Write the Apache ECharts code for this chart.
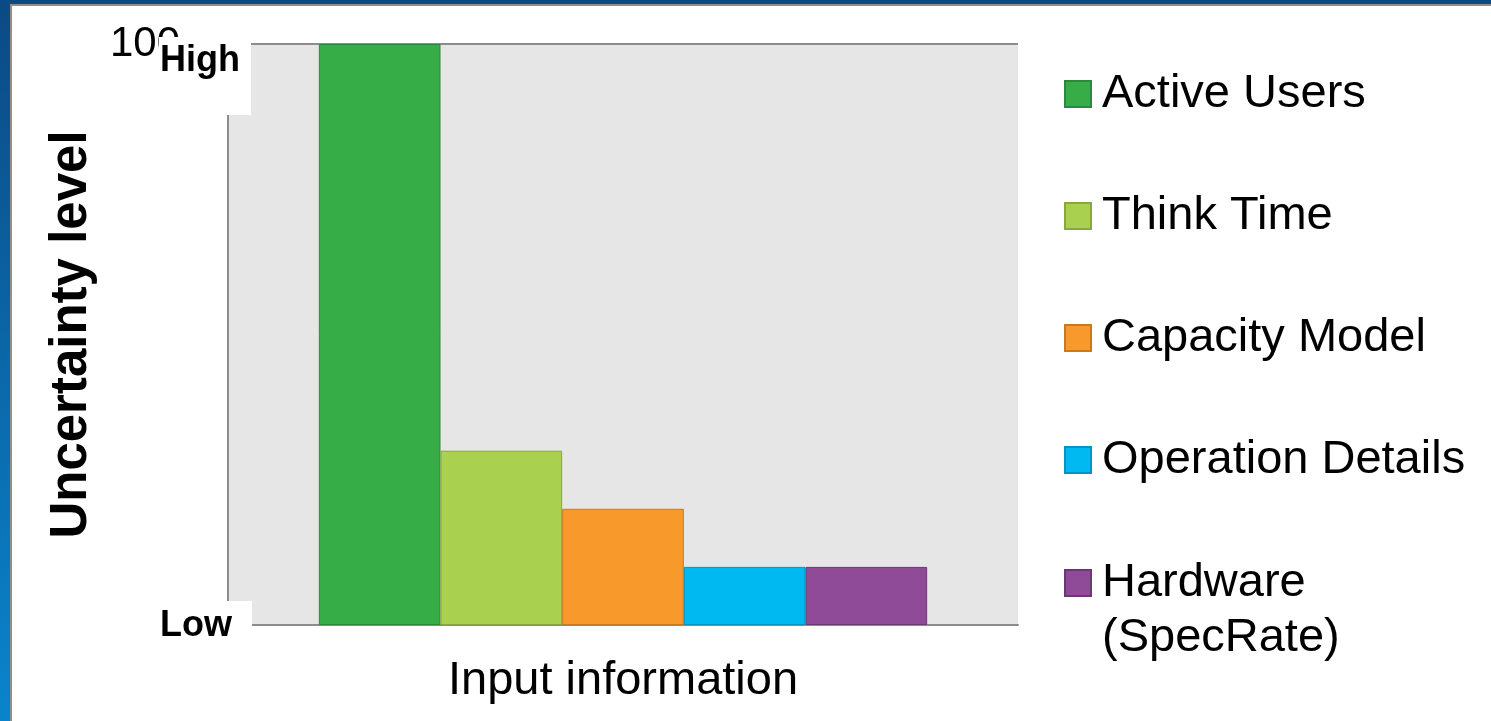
<!DOCTYPE html>
<html>
<head>
<meta charset="utf-8">
<script src="https://cdn.jsdelivr.net/npm/echarts@6/dist/echarts.min.js"></script>
<style>
  html, body { margin: 0; padding: 0; background: #ffffff; }
  #chart { width: 1491px; height: 721px; }
</style>
</head>
<body>
<div id="chart"></div>
<script>
// Input factors and their relative uncertainty (0 = low, 100 = high)
const categories = ['Input information'];
const seriesNames = ['Active Users', 'Think Time', 'Capacity Model', 'Operation Details', 'Hardware (SpecRate)'];
const seriesValues = [100, 30, 20, 10, 10];
const seriesColors = ['#37ad48', '#a9d04e', '#f7992b', '#00b9f0', '#8f4a98'];
const seriesBorders = ['#2b8a39', '#88a83c', '#c77a20', '#0094c2', '#6c3775'];
const yTickValues = [0, 100];
const levelHigh = 'High';
const levelLow = 'Low';

const FONT = "'Liberation Sans', Arial, sans-serif";
const AXIS_GRAY = '#8c8c8c';
const LEGEND_SIZE = 47;
const LEGEND_LINE = 55;

const chart = echarts.init(document.getElementById('chart'), null, { renderer: 'canvas' });

const option = {
  animation: false,
  grid: {
    left: 228, right: 473, top: 44, bottom: 96,
    show: true, backgroundColor: '#e6e6e6', borderWidth: 0
  },
  xAxis: {
    type: 'category',
    data: categories,
    name: categories[0],
    nameLocation: 'middle',
    nameGap: 33,
    nameTextStyle: { fontFamily: FONT, fontSize: 47, color: '#000000' },
    axisLine: { show: true, lineStyle: { color: AXIS_GRAY, width: 2 } },
    axisTick: { show: false },
    axisLabel: { show: false },
    splitLine: { show: false }
  },
  yAxis: {
    type: 'value',
    min: yTickValues[0],
    max: yTickValues[yTickValues.length - 1],
    interval: yTickValues[1] - yTickValues[0],
    name: 'Uncertainty level',
    nameLocation: 'middle',
    nameGap: 131,
    nameTextStyle: { fontFamily: FONT, fontSize: 51, fontWeight: 'bold', color: '#000000' },
    axisLine: { show: true, lineStyle: { color: AXIS_GRAY, width: 2 } },
    axisTick: { show: false },
    axisLabel: { fontFamily: FONT, fontSize: 42, color: '#000000', margin: 48 },
    splitLine: { show: true, lineStyle: { color: AXIS_GRAY, width: 2 } }
  },
  legend: [
    {
      orient: 'vertical',
      left: 1064, top: 66.5, padding: 0,
      itemWidth: 26, itemHeight: 26, itemGap: 122 - LEGEND_LINE,
      icon: 'rect',
      selectedMode: false,
      data: seriesNames.slice(0, 4),
      textStyle: {
        fontFamily: FONT, fontSize: LEGEND_SIZE, lineHeight: LEGEND_LINE,
        color: '#000000', padding: [0, 0, 0, 6]
      }
    },
    {
      // two-line entry: the first line sits next to the swatch
      orient: 'vertical',
      left: 1064, top: 500.5, padding: 0,
      itemWidth: 26, itemHeight: 26,
      icon: 'rect',
      selectedMode: false,
      data: seriesNames.slice(4),
      formatter: function (name) {
        const parts = name.split(' ');
        return '{e| }\n{t|' + parts[0] + '}\n{t|' + parts[1] + '}';
      },
      textStyle: {
        fontFamily: FONT, fontSize: LEGEND_SIZE, lineHeight: LEGEND_LINE, color: '#000000',
        rich: {
          e: { fontFamily: FONT, fontSize: LEGEND_SIZE, lineHeight: LEGEND_LINE, padding: [0, 0, 0, 6] },
          t: { fontFamily: FONT, fontSize: LEGEND_SIZE, lineHeight: LEGEND_LINE, color: '#000000', padding: [0, 0, 0, 6] }
        }
      }
    }
  ],
  series: seriesNames.map(function (name, i) {
    return {
      type: 'bar',
      name: name,
      data: [seriesValues[i]],
      barGap: '0%',
      barCategoryGap: '23%',
      itemStyle: { color: seriesColors[i], borderColor: seriesBorders[i], borderWidth: 1 },
      emphasis: { disabled: true }
    };
  }),
  graphic: [
    // page frame: blue strip on the left, navy strip on top
    {
      type: 'rect', z: 100,
      shape: { x: 0, y: 0, width: 10, height: 721 },
      style: {
        fill: new echarts.graphic.LinearGradient(0, 0, 0, 1, [
          { offset: 0, color: '#0b4a84' },
          { offset: 1, color: '#0a84cc' }
        ])
      }
    },
    { type: 'rect', z: 100, shape: { x: 10, y: 5, width: 2, height: 716 }, style: { fill: '#8f8f8f' } },
    { type: 'rect', z: 100, shape: { x: 0, y: 0, width: 1491, height: 4 }, style: { fill: '#0b4a84' } },
    { type: 'rect', z: 100, shape: { x: 10, y: 4, width: 1481, height: 2 }, style: { fill: '#8f8f8f' } },
    // "High" / "Low" boxes at the ends of the value axis
    { type: 'rect', z: 100, shape: { x: 159, y: 37, width: 92, height: 78 }, style: { fill: '#ffffff' } },
    {
      type: 'text', z: 101, x: 160, y: 61,
      style: { text: levelHigh, fontFamily: FONT, fontSize: 36, fontWeight: 'bold', fill: '#000000', verticalAlign: 'middle' }
    },
    { type: 'rect', z: 100, shape: { x: 150, y: 601, width: 102, height: 60 }, style: { fill: '#ffffff' } },
    {
      type: 'text', z: 101, x: 160, y: 626,
      style: { text: levelLow, fontFamily: FONT, fontSize: 36, fontWeight: 'bold', fill: '#000000', verticalAlign: 'middle' }
    }
  ]
};

chart.setOption(option);
</script>
</body>
</html>
